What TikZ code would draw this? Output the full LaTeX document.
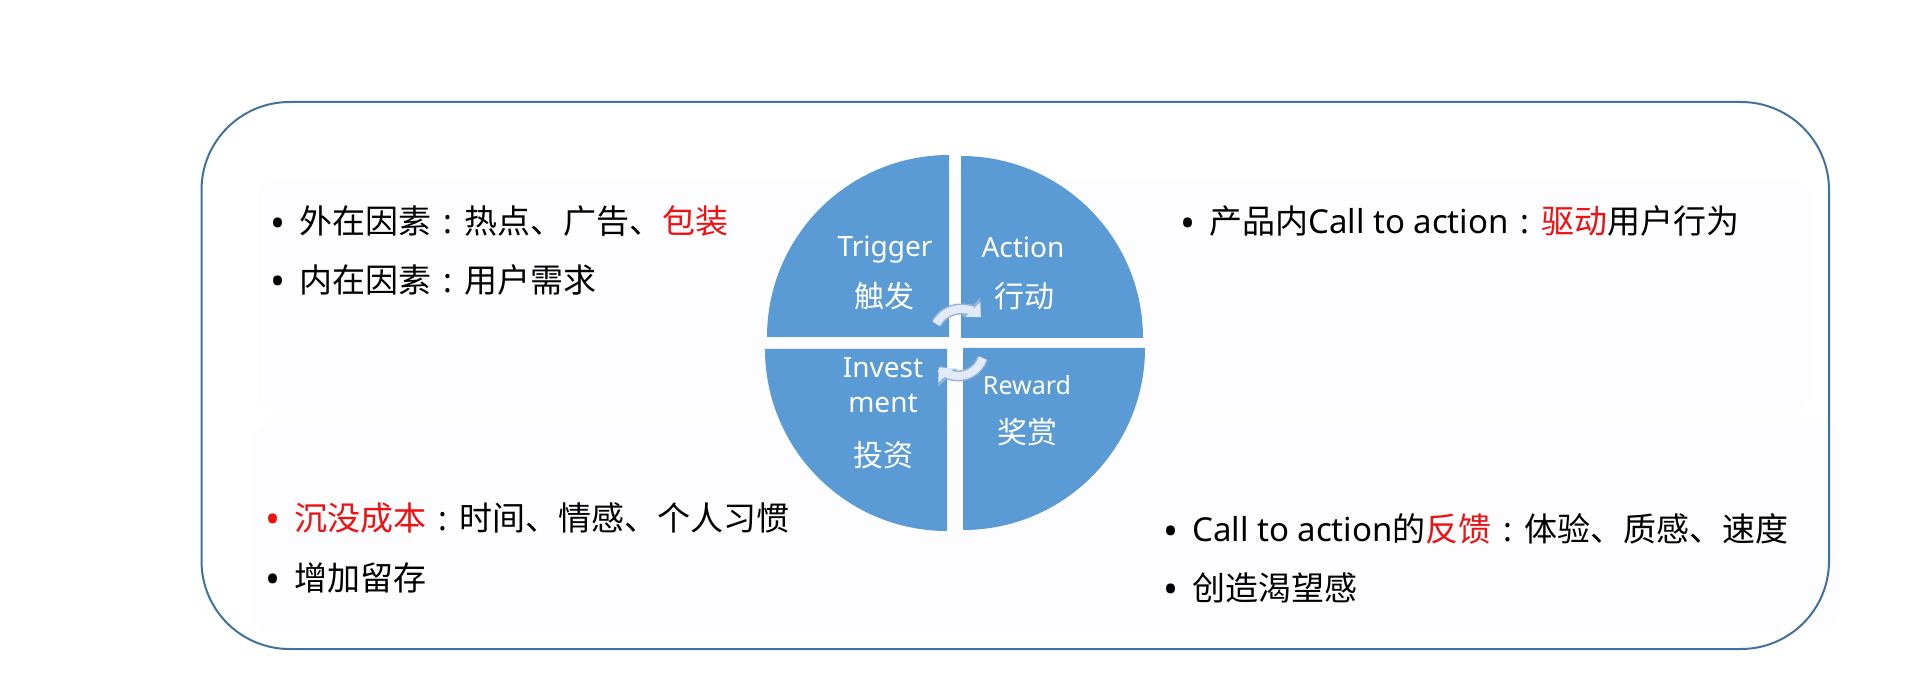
\documentclass[tikz,border=0pt]{standalone}
\usepackage{fontspec}
\setmainfont{Noto Sans CJK SC}
\newfontfamily\lat{Noto Sans}
\usetikzlibrary{arrows.meta}
\definecolor{quadblue}{RGB}{91,155,213}
\definecolor{framecol}{RGB}{65,113,156}
\definecolor{panelgray}{RGB}{253,252,254}
\definecolor{hlred}{RGB}{238,18,18}
\definecolor{arrowfill}{RGB}{226,234,247}
\definecolor{arrowrim}{RGB}{150,178,216}
\newcommand{\cln}{{\lat\makebox[1em]{:}}}
\newcommand{\bul}[1][black]{\makebox[0pt]{\raisebox{-3.5pt}{\lat\fontsize{40}{40}\selectfont\textcolor{#1}{•}}}\hspace{21pt}}

\begin{document}
\begin{tikzpicture}[x=1pt,y=1pt]
        \tikzstyle{panel}=[fill=panelgray,rounded corners=20pt]
        \tikzstyle{frame}=[draw=framecol,line width=2pt,rounded corners=88pt]
        \tikzstyle{quarter}=[fill=quadblue]
        \tikzstyle{item}=[anchor=base west,inner sep=0pt,font=\fontsize{33}{40}\selectfont]
        \tikzstyle{en}=[anchor=base,inner sep=0pt,text=white,font=\lat\fontsize{28}{34}\selectfont]
        \tikzstyle{zh}=[anchor=base,inner sep=0pt,text=white,font=\fontsize{30}{36}\selectfont]
        \tikzstyle{turnrim}=[draw=arrowrim,line width=11pt,-{Triangle[length=14pt,width=25pt]}]
        \tikzstyle{turn}=[draw=arrowfill,line width=8pt,-{Triangle[length=11pt,width=20pt]}]
        \useasboundingbox (0,0) rectangle (1920,-684);
        % background panels and frame
        \path[panel] (257,-180) rectangle (1812,-410);
        \path[panel] (252,-422) rectangle (1840,-632);
        \draw[frame] (201.5,-102) rectangle (1829,-649);
       \begin{scope}
         \coordinate (ctl) at (949,-337);
         \coordinate (ctr) at (961,-338);
         \coordinate (cbl) at (947,-349);
         \coordinate (cbr) at (963,-348);
         \foreach \c/\a in {ctl/90,ctr/0,cbl/180,cbr/270}
           \fill[quarter] (\c) -- ++(\a:182) arc[start angle=\a,delta angle=90,radius=182] -- cycle;
         % cycle arrows
         \coordinate (cu) at (961,-337);
         \coordinate (cd) at (958,-350);
         \draw[turnrim] (cu) ++(152:28) arc[start angle=152,end angle=45,radius=28];
         \draw[turn] (cu) ++(152:28) arc[start angle=152,end angle=45,radius=28];
         \draw[turnrim] (cd) ++(-18:26) arc[start angle=-18,end angle=-138,radius=26];
         \draw[turn] (cd) ++(-18:26) arc[start angle=-18,end angle=-138,radius=26];
         % quarter labels
         \node [en] (trig) at (885,-257) {Trigger};
         \node [zh] (trigzh) at (884,-308) {触发};
         \node [en] (act) at (1023,-258) {Action};
         \node [zh] (actzh) at (1024,-308) {行动};
         \node [en] (inv1) at (883,-378) {Invest};
         \node [en] (inv2) at (883,-413) {ment};
         \node [zh] (invzh) at (883,-466) {投资};
         \node [en,font=\lat\fontsize{25}{30}\selectfont] (rew) at (1027,-395) {Reward};
         \node [zh] (rewzh) at (1027,-443) {奖赏};
        \end{scope}
        % bullet texts
        \node [item] (t1) at (278,-234) {\bul 外在因素\cln 热点、广告、\textcolor{hlred}{包装}};
        \node [item] (t2) at (278,-292.5) {\bul 内在因素\cln 用户需求};
        \node [item] (a1) at (1188,-234) {\bul 产品内{\lat Call to action}\cln\textcolor{hlred}{驱动}用户行为};
        \node [item] (i1) at (273,-530) {\bul[hlred]\textcolor{hlred}{沉没成本}\cln 时间、情感、个人习惯};
        \node [item] (i2) at (273,-590) {\bul 增加留存};
        \node [item] (r1) at (1171,-541.5) {\bul {\lat Call to action}的\textcolor{hlred}{反馈}\cln 体验、质感、速度};
        \node [item] (r2) at (1171,-600) {\bul 创造渴望感};
      \end{tikzpicture}
\end{document}
